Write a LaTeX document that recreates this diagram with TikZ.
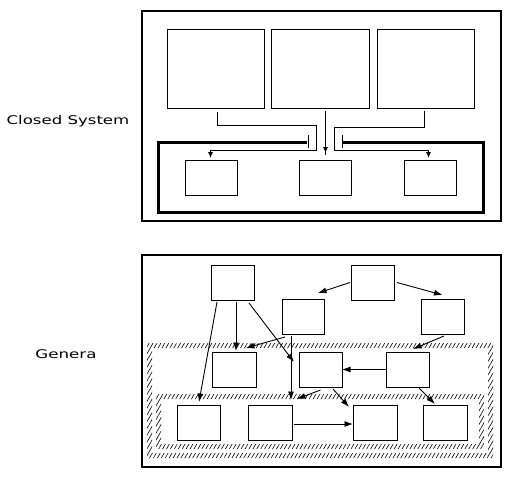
\documentclass[tikz,border=0pt]{standalone}
\usepackage{fontspec}
\setmainfont{DejaVu Sans}
\usetikzlibrary{arrows.meta,patterns.meta}
\tikzset{
  bx/.style={draw=black,fill=white,line width=1pt,inner sep=0pt,outer sep=0pt},
  frame/.style={draw=black,line width=2.2pt},
  thickframe/.style={draw=black,line width=3pt},
  conn/.style={draw=black,line width=1pt},
  arrT/.style={conn,-{Latex[length=6pt,width=5pt]}},
  arrB/.style={draw=black,line width=0.9pt,-{Latex[length=8.5pt,width=6pt]}},
  hatch/.style={pattern={Lines[angle=60,distance=3.4pt,line width=0.6pt]},even odd rule},
  lbl/.style={font=\fontsize{12}{14}\selectfont,inner sep=0pt}
}
\newcommand{\mkbox}[5]{%
  \pgfmathsetmacro\mkw{#4-#2}\pgfmathsetmacro\mkh{#5-#3}%
  \node[bx,minimum width=\mkw pt,minimum height=\mkh pt] (#1) at ({(#2+#4)/2},{(#3+#5)/2}) {};}
\begin{document}
\begin{tikzpicture}[x=1pt,y=-1pt]
\useasboundingbox (0,0) rectangle (512,479);
% ---------- Closed System ----------
\node[lbl] (lcs) at (68,121) {\scalebox{1.38}[1]{Closed System}};
\draw[frame] (142,11) rectangle (501,221);
\mkbox{s1}{167}{29}{264}{108}
\mkbox{s2}{271}{29}{369}{108}
\mkbox{s3}{377}{29}{474}{108}
\draw[thickframe] (307,142) -- (158,142) -- (158,212) -- (483,212) -- (483,142) -- (343,142);
\draw[conn] (308.5,135) -- (308.5,148);
\draw[conn] (342.5,135) -- (342.5,148);
\mkbox{ca}{185}{160}{237}{195}
\mkbox{cb}{299}{160}{351}{195}
\mkbox{cc}{404}{160}{456}{195}
\draw[arrT] ([xshift=2pt,yshift=-4pt]s1.south) |- (316.5,125.5) |- ([xshift=-0.5pt,yshift=9.5pt]ca.north) -- ([xshift=-0.5pt,yshift=2pt]ca.north);
\draw[arrT] ([xshift=5.5pt,yshift=-3pt]s2.south) -- ([xshift=0.5pt,yshift=7pt]cb.north);
\draw[conn] ([xshift=0.5pt,yshift=8pt]cb.north) -- ([xshift=0.5pt,yshift=5pt]cb.north);
\draw[arrT] ([xshift=-1pt,yshift=-3pt]s3.south) |- (334.5,127.5) |- ([xshift=-1.5pt,yshift=9.5pt]cc.north) -- ([xshift=-1.5pt,yshift=2pt]cc.north);
% ---------- Genera ----------
\node[lbl] (lg) at (66,354) {\scalebox{1.39}[1]{Genera}};
\draw[frame] (142,255) rectangle (501,467);
\fill[hatch] (147,343) rectangle (493,458) (152,348) rectangle (488,453);
\fill[hatch] (156,394) rectangle (484,449) (161,399) rectangle (479,444);
\mkbox{A}{211}{265}{254}{300}
\mkbox{B}{351}{265}{394}{300}
\mkbox{C}{282}{299}{324}{334}
\mkbox{D}{421}{299}{464}{334}
\mkbox{E}{212}{352}{256}{387}
\mkbox{F}{299}{352}{342}{387}
\mkbox{G}{386}{352}{429}{387}
\mkbox{H}{177}{405}{220}{440}
\mkbox{I}{248}{405}{292}{440}
\mkbox{J}{353}{405}{397}{440}
\mkbox{K}{423}{405}{467}{440}
\draw[arrB] ([xshift=-15.5pt,yshift=-2pt]A.south) -- ([xshift=0.5pt,yshift=3pt]H.north);
\draw[arrB] ([xshift=3.5pt,yshift=-2pt]A.south) -- ([xshift=2pt,yshift=1pt]E.north);
\draw[arrB] ([xshift=16.5pt,yshift=-3pt]A.south) -- ([xshift=-5pt,yshift=7.5pt]F.west);
\draw[arrB] ([xshift=-1pt]B.west) -- ([xshift=15pt,yshift=6pt]C.north);
\draw[arrB] ([xshift=3pt]B.east) -- ([yshift=4pt]D.north);
\draw[arrB] ([xshift=-18pt,yshift=-3pt]C.south) -- ([xshift=12pt,yshift=4pt]E.north);
\draw[arrB] ([xshift=-12pt,yshift=-2pt]C.south) -- ([xshift=21pt,yshift=5pt]I.north);
\draw[arrB] ([xshift=1.5pt,yshift=-2pt]D.south) -- ([xshift=5.5pt,yshift=3pt]G.north);
\draw[arrB] (G.west) -- (F.east);
\draw[arrB] ([yshift=-3pt]F.south) -- ([xshift=27pt,yshift=6pt]I.north);
\draw[arrB] ([xshift=12.5pt,yshift=-2pt]F.south) -- ([xshift=-4pt,yshift=-2pt]J.north west);
\draw[arrB] ([xshift=11.5pt,yshift=-1pt]G.south) -- ([xshift=-10pt,yshift=1pt]K.north);
\draw[arrB] ([xshift=2pt,yshift=-1.5pt]I.east) -- ([yshift=-1.5pt]J.west);
\end{tikzpicture}
\end{document}
